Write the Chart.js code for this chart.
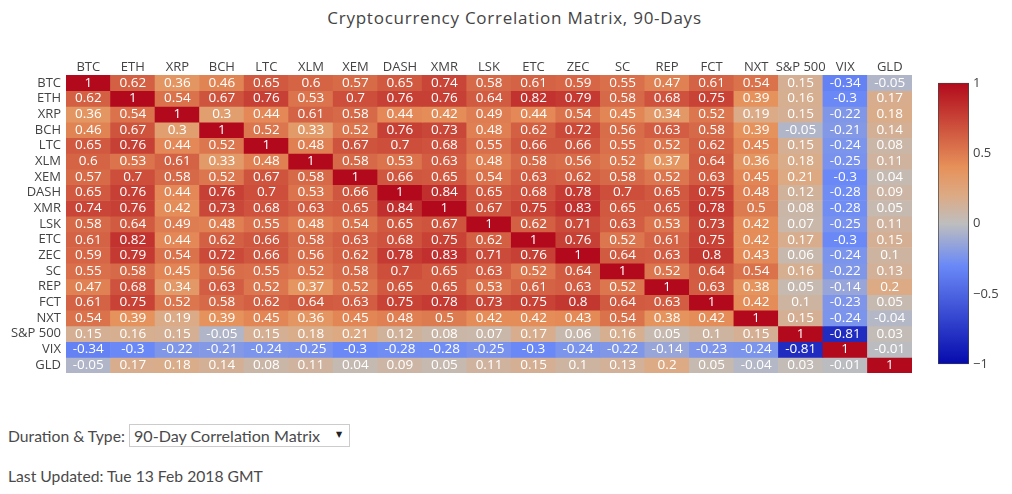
<!DOCTYPE html>
<html>
<head>
<meta charset="utf-8">
<script src="https://cdn.jsdelivr.net/npm/chart.js@4"></script>
<style>
  body { margin: 0; background: #fff; width: 1012px; height: 494px; overflow: hidden; position: relative; }
  canvas { position: absolute; }
  #heatWrap { position: absolute; left: 0; top: 0; width: 1012px; height: 400px; }
  #barWrap { position: absolute; left: 930px; top: 71px; width: 82px; height: 305px; }
  #title { position: absolute; left: 0; width: 1029px; top: 6px; text-align: center; font: 17px "Open Sans"; letter-spacing: 0.75px; color: #444; }
  .info { position: absolute; left: 8px; font: 15.7px Lato; color: #4a4a4a; white-space: nowrap; }
  #duration { position: absolute; left: 129px; top: 424px; width: 221px; height: 23px; box-sizing: border-box; appearance: none; -webkit-appearance: none;
    background: #fff; border: 1px solid #ccc; border-radius: 0; padding: 0 0 0 4px; font: 16.1px Lato; color: #4a4a4a; }
  #arrow { position: absolute; left: 336px; top: 430px; font: 8px "DejaVu Sans"; color: #222; }
</style>
</head>
<body>
<div id="title">Cryptocurrency Correlation Matrix, 90-Days</div>
<div id="heatWrap"><canvas id="heatmap"></canvas></div>
<div id="barWrap"><canvas id="colorbar"></canvas></div>
<div class="info" style="top:427px">Duration &amp; Type:</div>
<select id="duration"><option>90-Day Correlation Matrix</option></select>
<span id="arrow">▼</span>
<div class="info" style="top:467px">Last Updated: Tue 13 Feb 2018 GMT</div>

<script>
const assets = ['BTC','ETH','XRP','BCH','LTC','XLM','XEM','DASH','XMR','LSK','ETC','ZEC','SC','REP','FCT','NXT','S&P 500','VIX','GLD'];

const btc  = [1,0.62,0.36,0.46,0.65,0.6,0.57,0.65,0.74,0.58,0.61,0.59,0.55,0.47,0.61,0.54,0.15,-0.34,-0.05];
const eth  = [0.62,1,0.54,0.67,0.76,0.53,0.7,0.76,0.76,0.64,0.82,0.79,0.58,0.68,0.75,0.39,0.16,-0.3,0.17];
const xrp  = [0.36,0.54,1,0.3,0.44,0.61,0.58,0.44,0.42,0.49,0.44,0.54,0.45,0.34,0.52,0.19,0.15,-0.22,0.18];
const bch  = [0.46,0.67,0.3,1,0.52,0.33,0.52,0.76,0.73,0.48,0.62,0.72,0.56,0.63,0.58,0.39,-0.05,-0.21,0.14];
const ltc  = [0.65,0.76,0.44,0.52,1,0.48,0.67,0.7,0.68,0.55,0.66,0.66,0.55,0.52,0.62,0.45,0.15,-0.24,0.08];
const xlm  = [0.6,0.53,0.61,0.33,0.48,1,0.58,0.53,0.63,0.48,0.58,0.56,0.52,0.37,0.64,0.36,0.18,-0.25,0.11];
const xem  = [0.57,0.7,0.58,0.52,0.67,0.58,1,0.66,0.65,0.54,0.63,0.62,0.58,0.52,0.63,0.45,0.21,-0.3,0.04];
const dash = [0.65,0.76,0.44,0.76,0.7,0.53,0.66,1,0.84,0.65,0.68,0.78,0.7,0.65,0.75,0.48,0.12,-0.28,0.09];
const xmr  = [0.74,0.76,0.42,0.73,0.68,0.63,0.65,0.84,1,0.67,0.75,0.83,0.65,0.65,0.78,0.5,0.08,-0.28,0.05];
const lsk  = [0.58,0.64,0.49,0.48,0.55,0.48,0.54,0.65,0.67,1,0.62,0.71,0.63,0.53,0.73,0.42,0.07,-0.25,0.11];
const etc  = [0.61,0.82,0.44,0.62,0.66,0.58,0.63,0.68,0.75,0.62,1,0.76,0.52,0.61,0.75,0.42,0.17,-0.3,0.15];
const zec  = [0.59,0.79,0.54,0.72,0.66,0.56,0.62,0.78,0.83,0.71,0.76,1,0.64,0.63,0.8,0.43,0.06,-0.24,0.1];
const sc   = [0.55,0.58,0.45,0.56,0.55,0.52,0.58,0.7,0.65,0.63,0.52,0.64,1,0.52,0.64,0.54,0.16,-0.22,0.13];
const rep  = [0.47,0.68,0.34,0.63,0.52,0.37,0.52,0.65,0.65,0.53,0.61,0.63,0.52,1,0.63,0.38,0.05,-0.14,0.2];
const fct  = [0.61,0.75,0.52,0.58,0.62,0.64,0.63,0.75,0.78,0.73,0.75,0.8,0.64,0.63,1,0.42,0.1,-0.23,0.05];
const nxt  = [0.54,0.39,0.19,0.39,0.45,0.36,0.45,0.48,0.5,0.42,0.42,0.43,0.54,0.38,0.42,1,0.15,-0.24,-0.04];
const spx  = [0.15,0.16,0.15,-0.05,0.15,0.18,0.21,0.12,0.08,0.07,0.17,0.06,0.16,0.05,0.1,0.15,1,-0.81,0.03];
const vix  = [-0.34,-0.3,-0.22,-0.21,-0.24,-0.25,-0.3,-0.28,-0.28,-0.25,-0.3,-0.24,-0.22,-0.14,-0.23,-0.24,-0.81,1,-0.01];
const gld  = [-0.05,0.17,0.18,0.14,0.08,0.11,0.04,0.09,0.05,0.11,0.15,0.1,0.13,0.2,0.05,-0.04,0.03,-0.01,1];
const rows = [btc,eth,xrp,bch,ltc,xlm,xem,dash,xmr,lsk,etc,zec,sc,rep,fct,nxt,spx,vix,gld];

const colorStops = [-1,-0.3,0,0.2,0.4,1];
const colorValues = [[5,10,172],[106,137,247],[190,190,190],[220,170,132],[230,145,90],[178,10,28]];
const colorTicks = [-1,-0.5,0,0.5,1];

function cellColor(v) {
    let i = 0;
    while (i < colorStops.length - 2 && v > colorStops[i + 1]) i++;
    const t = (v - colorStops[i]) / (colorStops[i + 1] - colorStops[i]);
    const c = colorValues[i].map((a, k) => Math.round(a + (colorValues[i + 1][k] - a) * t));
    return 'rgb(' + c.join(',') + ')';
}

const tickFont = { family: 'Open Sans', size: 13 };

// values printed on top of each cell
const cellText = {
    id: 'cellText',
    afterDatasetsDraw(chart) {
        const ctx = chart.ctx;
        ctx.save();
        ctx.font = '13.5px "Open Sans"';
        ctx.fillStyle = '#fff';
        ctx.textAlign = 'center';
        ctx.textBaseline = 'middle';
        rows.forEach((row, r) => {
            chart.getDatasetMeta(r).data.forEach((bar, c) => {
                const p = bar.getCenterPoint();
                ctx.fillText(String(row[c]), p.x, p.y);
            });
        });
        ctx.restore();
    }
};

new Chart(document.getElementById('heatmap'), {
    type: 'bar',
    data: {
        labels: assets,
        datasets: rows.map((row, r) => ({
            label: assets[r],
            data: row.map(() => [r, r + 1]),
            backgroundColor: row.map(cellColor),
            barPercentage: 1,
            categoryPercentage: 1
        }))
    },
    options: {
        responsive: true,
        maintainAspectRatio: false,
        animation: false,
        layout: { padding: { top: 0, right: 100, bottom: 27, left: 0 } },
        plugins: { legend: { display: false }, tooltip: { enabled: false } },
        scales: {
            x: {
                position: 'top',
                stacked: true,
                grid: { display: false, drawTicks: false },
                border: { display: false },
                ticks: { font: tickFont, color: '#444', padding: 0, maxRotation: 0, autoSkip: false },
                afterFit(scale) { scale.height = 75; }
            },
            y: {
                min: 0,
                max: assets.length,
                reverse: true,
                grid: { display: false, drawTicks: false },
                border: { display: false },
                afterBuildTicks(scale) { scale.ticks = assets.map((a, i) => ({ value: i + 0.5 })); },
                ticks: {
                    font: tickFont,
                    color: '#444',
                    padding: 5,
                    autoSkip: false,
                    callback(value) { return assets[value - 0.5]; }
                },
                afterFit(scale) { scale.width = 66; }
            }
        }
    },
    plugins: [cellText]
});

new Chart(document.getElementById('colorbar'), {
    type: 'bar',
    data: {
        labels: [''],
        datasets: [{
            data: [[colorTicks[0], colorTicks[colorTicks.length - 1]]],
            barPercentage: 1,
            categoryPercentage: 1,
            borderColor: '#444',
            borderWidth: 1,
            borderSkipped: false,
            backgroundColor(context) {
                const area = context.chart.chartArea;
                if (!area) return '#bebebe';
                const g = context.chart.ctx.createLinearGradient(0, area.bottom, 0, area.top);
                colorStops.forEach(s => g.addColorStop((s + 1) / 2, cellColor(s)));
                return g;
            }
        }]
    },
    options: {
        responsive: true,
        maintainAspectRatio: false,
        animation: false,
        layout: { padding: { top: 4, right: 0, bottom: 5, left: 8 } },
        plugins: { legend: { display: false }, tooltip: { enabled: false } },
        scales: {
            x: { display: false },
            y: {
                position: 'right',
                min: -1,
                max: 1,
                afterBuildTicks(scale) { scale.ticks = colorTicks.map(v => ({ value: v })); },
                grid: { display: false, drawTicks: false },
                border: { display: false },
                ticks: {
                    font: tickFont,
                    color: '#444',
                    padding: 4,
                    callback(value) { return value < 0 ? '\u2212' + Math.abs(value) : String(value); }
                },
                afterFit(scale) { scale.width = 43; }
            }
        }
    }
});
</script>
</body>
</html>
